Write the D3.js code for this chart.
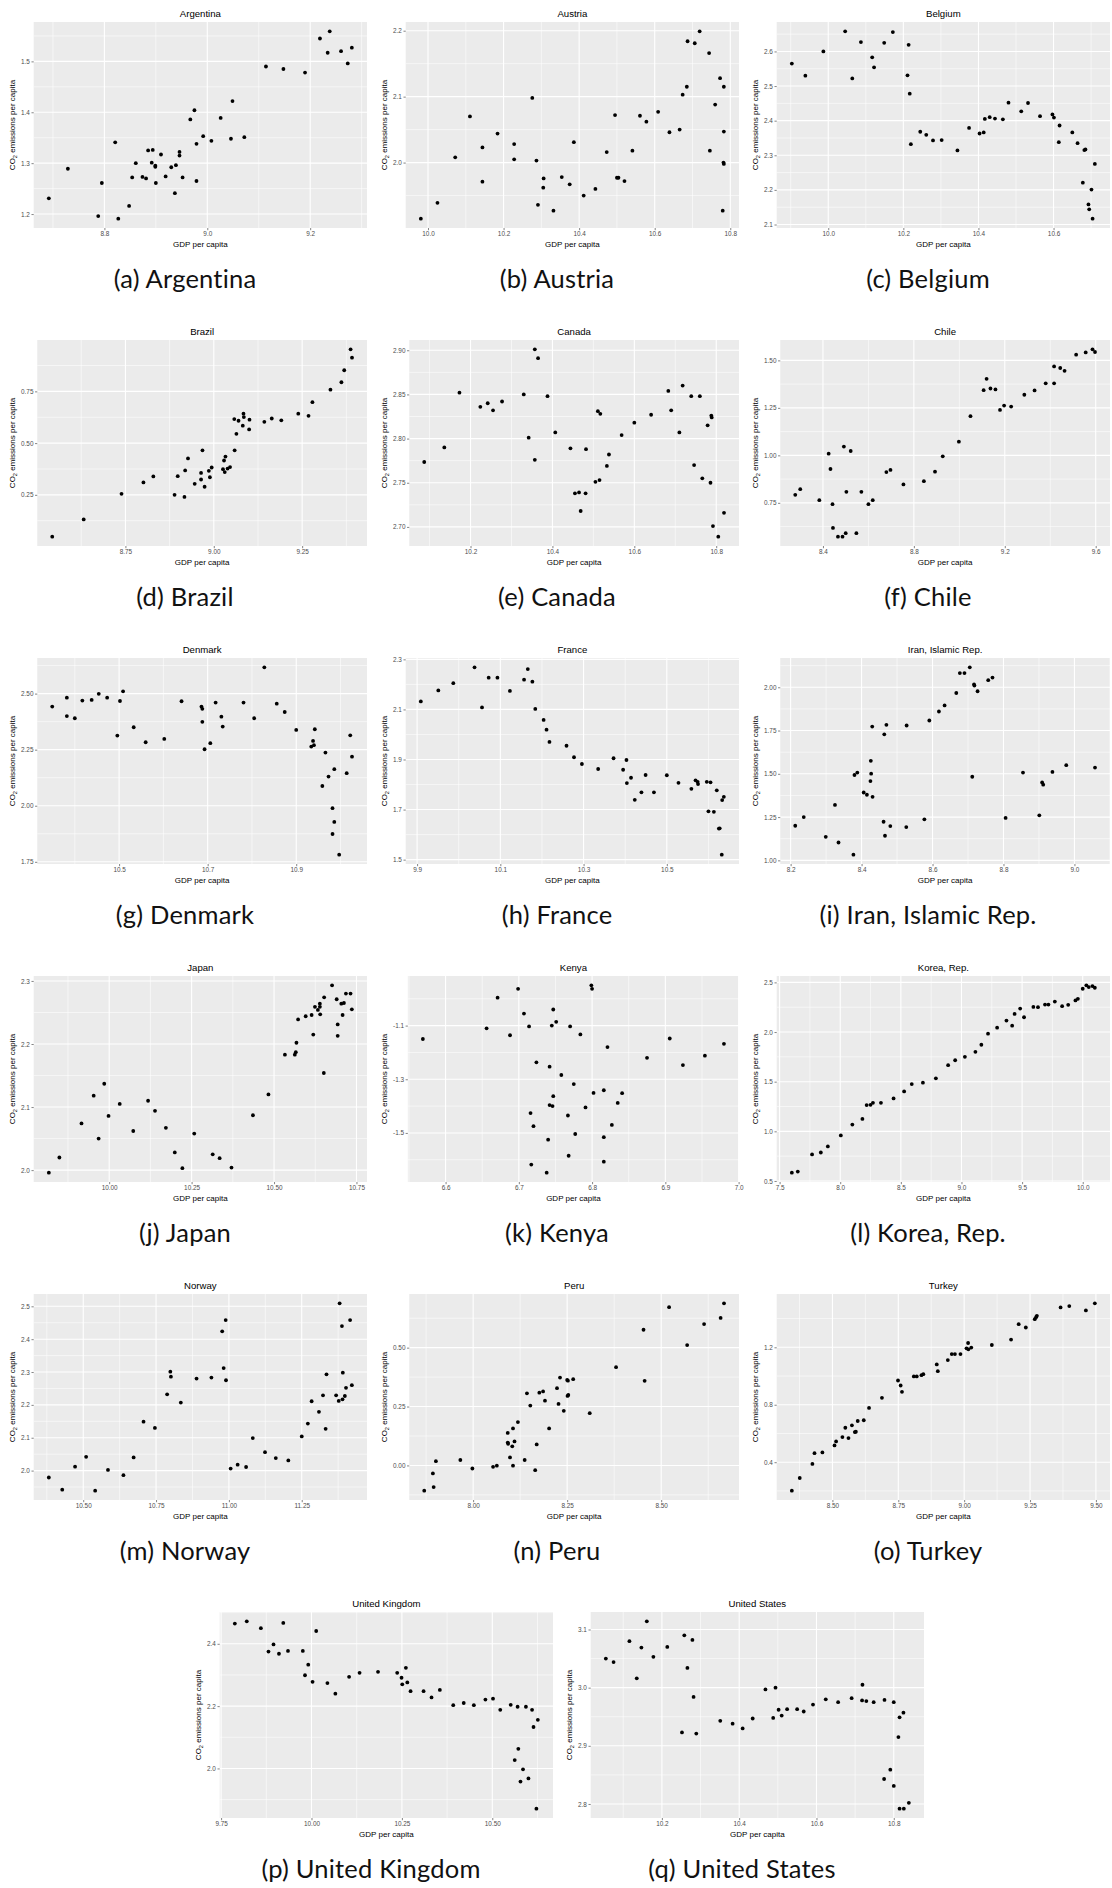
<!DOCTYPE html>
<html>
<head>
<meta charset="utf-8">
<script src="https://cdn.jsdelivr.net/npm/d3@7"></script>
<style>
  body { margin: 0; background: #fff; }
  svg { display: block; }
</style>
</head>
<body>
<svg id="fig" width="1112" height="1888"></svg>
<script>
// Each country: [log GDP per capita, log CO2 emissions per capita] per year
const argentina = [[8.692,1.231],[8.729,1.289],[8.788,1.196],[8.795,1.261],[8.821,1.341],[8.827,1.191],[8.848,1.216],[8.854,1.272],[8.861,1.300],[8.874,1.273],[8.881,1.270],[8.885,1.325],[8.894,1.326],[8.892,1.301],[8.899,1.293],[8.899,1.295],[8.900,1.261],[8.910,1.317],[8.919,1.274],[8.930,1.292],[8.937,1.241],[8.939,1.296],[8.946,1.322],[8.946,1.315],[8.952,1.272],[8.967,1.386],[8.975,1.404],[8.979,1.265],[8.979,1.338],[8.992,1.353],[9.008,1.344],[9.026,1.389],[9.046,1.348],[9.049,1.422],[9.072,1.351],[9.114,1.490],[9.148,1.485],[9.190,1.478],[9.219,1.545],[9.234,1.517],[9.238,1.559],[9.260,1.520],[9.273,1.496],[9.281,1.527]];
const austria = [[9.981,1.915],[10.025,1.939],[10.072,2.008],[10.111,2.070],[10.144,2.023],[10.144,1.971],[10.184,2.044],[10.228,2.028],[10.228,2.005],[10.276,2.098],[10.287,2.003],[10.291,1.936],[10.305,1.962],[10.306,1.976],[10.332,1.927],[10.354,1.978],[10.375,1.967],[10.386,2.031],[10.412,1.950],[10.443,1.960],[10.473,2.016],[10.495,2.072],[10.500,1.977],[10.504,1.977],[10.520,1.972],[10.541,2.018],[10.561,2.071],[10.578,2.062],[10.609,2.077],[10.639,2.046],[10.666,2.050],[10.674,2.103],[10.685,2.115],[10.687,2.184],[10.706,2.181],[10.719,2.199],[10.744,2.166],[10.746,2.018],[10.760,2.088],[10.773,2.128],[10.783,2.115],[10.783,2.047],[10.782,2.000],[10.783,1.998],[10.780,1.927]];
const belgium = [[9.903,2.565],[9.939,2.530],[9.987,2.600],[10.045,2.658],[10.064,2.522],[10.087,2.627],[10.117,2.583],[10.122,2.554],[10.149,2.625],[10.172,2.656],[10.211,2.531],[10.214,2.619],[10.217,2.478],[10.220,2.332],[10.245,2.368],[10.261,2.359],[10.279,2.343],[10.302,2.344],[10.344,2.314],[10.375,2.379],[10.403,2.363],[10.414,2.366],[10.417,2.405],[10.430,2.410],[10.444,2.406],[10.465,2.404],[10.480,2.452],[10.514,2.427],[10.532,2.451],[10.564,2.413],[10.597,2.418],[10.601,2.409],[10.616,2.386],[10.614,2.338],[10.650,2.366],[10.664,2.335],[10.678,2.221],[10.682,2.315],[10.685,2.317],[10.693,2.158],[10.695,2.144],[10.701,2.201],[10.704,2.117],[10.710,2.275]];
const brazil = [[8.543,0.048],[8.632,0.131],[8.739,0.255],[8.801,0.310],[8.829,0.339],[8.889,0.250],[8.898,0.340],[8.917,0.240],[8.919,0.368],[8.927,0.426],[8.946,0.303],[8.964,0.356],[8.964,0.324],[8.968,0.465],[8.974,0.289],[8.986,0.366],[8.989,0.335],[8.994,0.382],[9.026,0.374],[9.029,0.416],[9.031,0.360],[9.033,0.435],[9.039,0.377],[9.046,0.384],[9.058,0.616],[9.059,0.465],[9.064,0.545],[9.070,0.608],[9.082,0.584],[9.084,0.642],[9.085,0.626],[9.100,0.566],[9.101,0.613],[9.143,0.603],[9.164,0.619],[9.191,0.610],[9.239,0.642],[9.268,0.632],[9.279,0.698],[9.330,0.758],[9.361,0.794],[9.369,0.852],[9.387,0.953],[9.391,0.913]];
const canada = [[10.087,2.7735],[10.136,2.790],[10.173,2.852],[10.224,2.836],[10.242,2.840],[10.255,2.832],[10.277,2.842],[10.330,2.850],[10.342,2.801],[10.357,2.901],[10.365,2.891],[10.357,2.776],[10.388,2.848],[10.407,2.807],[10.444,2.789],[10.455,2.738],[10.465,2.739],[10.469,2.718],[10.481,2.738],[10.482,2.788],[10.505,2.751],[10.511,2.831],[10.515,2.753],[10.517,2.828],[10.533,2.769],[10.538,2.782],[10.569,2.804],[10.600,2.818],[10.641,2.827],[10.683,2.854],[10.690,2.832],[10.710,2.807],[10.718,2.860],[10.739,2.848],[10.746,2.770],[10.760,2.848],[10.766,2.755],[10.779,2.815],[10.786,2.750],[10.788,2.826],[10.789,2.824],[10.792,2.701],[10.805,2.689],[10.819,2.716]];
const chile = [[8.278,0.792],[8.300,0.822],[8.384,0.764],[8.425,1.009],[8.433,0.928],[8.442,0.743],[8.444,0.618],[8.466,0.572],[8.486,0.572],[8.492,1.046],[8.500,0.590],[8.503,0.808],[8.522,1.023],[8.547,0.590],[8.569,0.808],[8.600,0.743],[8.619,0.764],[8.679,0.912],[8.697,0.923],[8.754,0.847],[8.844,0.864],[8.893,0.914],[8.927,0.995],[8.998,1.072],[9.049,1.206],[9.107,1.343],[9.120,1.403],[9.137,1.352],[9.159,1.347],[9.179,1.239],[9.197,1.262],[9.228,1.257],[9.286,1.319],[9.331,1.342],[9.380,1.379],[9.417,1.379],[9.417,1.468],[9.444,1.460],[9.463,1.445],[9.514,1.530],[9.556,1.542],[9.586,1.558],[9.597,1.544]];
const denmark = [[10.349,2.442],[10.382,2.482],[10.382,2.400],[10.400,2.390],[10.417,2.469],[10.438,2.472],[10.454,2.499],[10.473,2.482],[10.496,2.313],[10.502,2.467],[10.509,2.510],[10.533,2.350],[10.560,2.283],[10.602,2.298],[10.641,2.466],[10.686,2.442],[10.688,2.432],[10.688,2.374],[10.693,2.252],[10.706,2.279],[10.718,2.460],[10.731,2.397],[10.734,2.353],[10.781,2.460],[10.805,2.390],[10.828,2.617],[10.856,2.455],[10.874,2.418],[10.900,2.338],[10.934,2.264],[10.938,2.289],[10.940,2.270],[10.942,2.341],[10.966,2.237],[10.959,2.088],[10.973,2.130],[10.982,1.989],[10.986,2.163],[10.986,1.928],[10.982,1.874],[10.997,1.782],[11.014,2.145],[11.022,2.314],[11.026,2.219]];
const france = [[9.909,2.132],[9.951,2.176],[9.987,2.205],[10.038,2.268],[10.056,2.108],[10.072,2.227],[10.093,2.227],[10.123,2.174],[10.157,2.219],[10.166,2.261],[10.177,2.211],[10.184,2.102],[10.204,2.058],[10.211,2.019],[10.218,1.970],[10.259,1.955],[10.277,1.909],[10.296,1.882],[10.335,1.862],[10.372,1.905],[10.395,1.859],[10.403,1.898],[10.404,1.806],[10.414,1.827],[10.423,1.739],[10.439,1.769],[10.449,1.838],[10.469,1.769],[10.500,1.837],[10.528,1.807],[10.559,1.783],[10.569,1.817],[10.574,1.811],[10.575,1.802],[10.596,1.811],[10.600,1.693],[10.605,1.809],[10.613,1.691],[10.620,1.777],[10.625,1.624],[10.627,1.625],[10.632,1.520],[10.633,1.738],[10.637,1.751]];
const iran = [[8.213,1.200],[8.237,1.250],[8.299,1.136],[8.325,1.320],[8.335,1.103],[8.377,1.033],[8.380,1.493],[8.388,1.507],[8.406,1.392],[8.415,1.379],[8.425,1.458],[8.426,1.575],[8.427,1.501],[8.431,1.367],[8.430,1.773],[8.462,1.223],[8.464,1.728],[8.466,1.142],[8.470,1.783],[8.481,1.198],[8.526,1.192],[8.527,1.779],[8.577,1.237],[8.591,1.808],[8.618,1.860],[8.634,1.895],[8.667,1.967],[8.677,2.082],[8.690,2.082],[8.705,2.115],[8.712,1.483],[8.717,2.017],[8.718,2.010],[8.727,1.977],[8.757,2.041],[8.769,2.056],[8.806,1.245],[8.855,1.507],[8.901,1.260],[8.909,1.450],[8.912,1.437],[8.938,1.511],[8.977,1.550],[9.058,1.536]];
const japan = [[9.817,1.996],[9.849,2.020],[9.916,2.074],[9.953,2.118],[9.968,2.050],[9.985,2.137],[9.998,2.086],[10.032,2.105],[10.073,2.062],[10.118,2.110],[10.139,2.094],[10.172,2.067],[10.199,2.028],[10.222,2.003],[10.258,2.058],[10.314,2.025],[10.335,2.019],[10.371,2.004],[10.436,2.087],[10.483,2.120],[10.533,2.183],[10.563,2.183],[10.566,2.187],[10.568,2.202],[10.573,2.239],[10.596,2.244],[10.614,2.246],[10.619,2.215],[10.624,2.259],[10.633,2.254],[10.639,2.264],[10.639,2.259],[10.640,2.247],[10.652,2.274],[10.651,2.154],[10.676,2.293],[10.690,2.271],[10.693,2.231],[10.693,2.213],[10.704,2.264],[10.708,2.246],[10.712,2.265],[10.718,2.280],[10.732,2.280],[10.736,2.255]];
const kenya = [[6.569,-1.150],[6.656,-1.110],[6.671,-0.996],[6.688,-1.136],[6.699,-0.963],[6.707,-1.055],[6.714,-1.103],[6.724,-1.237],[6.716,-1.426],[6.720,-1.475],[6.717,-1.618],[6.740,-1.525],[6.738,-1.648],[6.745,-1.100],[6.747,-1.040],[6.751,-1.086],[6.742,-1.253],[6.742,-1.396],[6.746,-1.400],[6.747,-1.363],[6.758,-1.284],[6.768,-1.585],[6.767,-1.435],[6.770,-1.103],[6.775,-1.318],[6.777,-1.504],[6.784,-1.133],[6.791,-1.405],[6.799,-0.950],[6.800,-0.963],[6.802,-1.351],[6.816,-1.341],[6.816,-1.516],[6.816,-1.607],[6.821,-1.180],[6.827,-1.470],[6.835,-1.388],[6.841,-1.352],[6.875,-1.220],[6.906,-1.148],[6.924,-1.247],[6.954,-1.212],[6.980,-1.168]];
const korea = [[7.601,0.584],[7.650,0.595],[7.768,0.767],[7.840,0.787],[7.898,0.848],[8.005,0.959],[8.100,1.068],[8.183,1.125],[8.218,1.264],[8.250,1.267],[8.270,1.287],[8.336,1.287],[8.440,1.331],[8.527,1.402],[8.590,1.476],[8.682,1.490],[8.789,1.534],[8.890,1.666],[8.948,1.716],[9.028,1.750],[9.115,1.801],[9.164,1.872],[9.219,1.983],[9.294,2.044],[9.371,2.115],[9.418,2.064],[9.438,2.182],[9.484,2.236],[9.516,2.149],[9.593,2.253],[9.631,2.250],[9.689,2.277],[9.717,2.277],[9.770,2.307],[9.830,2.260],[9.880,2.274],[9.940,2.318],[9.960,2.334],[10.000,2.436],[10.030,2.470],[10.050,2.453],[10.080,2.463],[10.100,2.446]];
const norway = [[10.382,1.979],[10.428,1.942],[10.472,2.012],[10.510,2.042],[10.541,1.939],[10.585,2.002],[10.638,1.986],[10.673,2.040],[10.707,2.149],[10.746,2.130],[10.788,2.232],[10.799,2.301],[10.801,2.286],[10.835,2.207],[10.889,2.280],[10.940,2.283],[10.977,2.424],[10.982,2.312],[10.989,2.458],[10.990,2.275],[11.006,2.006],[11.030,2.018],[11.059,2.011],[11.082,2.099],[11.124,2.056],[11.161,2.038],[11.204,2.031],[11.250,2.104],[11.271,2.143],[11.284,2.211],[11.309,2.179],[11.323,2.229],[11.332,2.127],[11.335,2.293],[11.368,2.229],[11.377,2.212],[11.380,2.509],[11.388,2.440],[11.390,2.217],[11.391,2.298],[11.398,2.227],[11.402,2.252],[11.416,2.458],[11.422,2.260]];
const peru = [[7.870,-0.107],[7.893,-0.034],[7.895,-0.092],[7.901,0.018],[7.966,0.023],[7.998,-0.013],[8.053,-0.006],[8.063,-0.001],[8.092,0.138],[8.092,0.097],[8.093,0.092],[8.098,0.034],[8.106,0.157],[8.104,0.081],[8.106,-0.001],[8.110,0.102],[8.119,0.184],[8.137,0.023],[8.143,0.306],[8.152,0.254],[8.165,-0.020],[8.169,0.089],[8.176,0.309],[8.186,0.314],[8.191,0.275],[8.202,0.157],[8.223,0.328],[8.227,0.261],[8.231,0.373],[8.241,0.232],[8.250,0.363],[8.252,0.360],[8.251,0.295],[8.253,0.299],[8.266,0.366],[8.310,0.222],[8.380,0.417],[8.453,0.576],[8.456,0.359],[8.521,0.672],[8.569,0.511],[8.614,0.600],[8.658,0.626],[8.667,0.688]];
const turkey = [[8.346,0.202],[8.376,0.290],[8.424,0.388],[8.432,0.463],[8.462,0.468],[8.508,0.517],[8.514,0.545],[8.538,0.575],[8.549,0.640],[8.561,0.568],[8.574,0.657],[8.585,0.610],[8.589,0.612],[8.596,0.687],[8.619,0.692],[8.639,0.778],[8.688,0.848],[8.749,0.969],[8.759,0.934],[8.764,0.890],[8.809,0.997],[8.820,0.997],[8.838,1.006],[8.845,1.013],[8.896,1.081],[8.900,1.034],[8.938,1.111],[8.953,1.153],[8.965,1.153],[8.986,1.153],[9.009,1.193],[9.015,1.230],[9.016,1.186],[9.027,1.198],[9.105,1.216],[9.178,1.254],[9.207,1.361],[9.234,1.338],[9.268,1.396],[9.273,1.410],[9.276,1.419],[9.366,1.478],[9.399,1.487],[9.462,1.457],[9.496,1.506]];
const unitedKingdom = [[9.788,2.465],[9.821,2.472],[9.860,2.450],[9.881,2.375],[9.895,2.398],[9.910,2.368],[9.922,2.467],[9.935,2.377],[9.976,2.377],[9.982,2.299],[9.991,2.333],[10.003,2.278],[10.013,2.441],[10.044,2.274],[10.066,2.240],[10.104,2.294],[10.133,2.307],[10.184,2.310],[10.237,2.307],[10.249,2.291],[10.251,2.270],[10.261,2.323],[10.265,2.276],[10.274,2.248],[10.310,2.248],[10.332,2.228],[10.355,2.252],[10.392,2.203],[10.421,2.210],[10.449,2.203],[10.481,2.221],[10.502,2.224],[10.522,2.188],[10.551,2.204],[10.570,2.198],[10.593,2.198],[10.610,2.188],[10.626,2.156],[10.614,2.133],[10.572,2.063],[10.562,2.027],[10.585,1.997],[10.578,1.958],[10.600,1.968],[10.622,1.871]];
const unitedStates = [[10.055,3.050],[10.075,3.044],[10.116,3.080],[10.135,3.016],[10.147,3.069],[10.161,3.114],[10.178,3.053],[10.214,3.070],[10.252,2.923],[10.258,3.090],[10.266,3.034],[10.279,3.082],[10.282,2.984],[10.289,2.921],[10.351,2.943],[10.383,2.938],[10.409,2.930],[10.435,2.947],[10.468,2.997],[10.488,2.948],[10.494,3.000],[10.502,2.962],[10.510,2.952],[10.524,2.963],[10.550,2.963],[10.567,2.959],[10.591,2.971],[10.624,2.980],[10.656,2.975],[10.691,2.982],[10.719,3.005],[10.718,2.978],[10.729,2.977],[10.748,2.975],[10.775,2.843],[10.776,2.979],[10.791,2.859],[10.800,2.831],[10.800,2.975],[10.812,2.915],[10.815,2.949],[10.815,2.792],[10.825,2.957],[10.826,2.792],[10.839,2.802]];

// Axis break labels for each country
const argentinaX = ["8.8","9.0","9.2"],              argentinaY = ["1.2","1.3","1.4","1.5"];
const austriaX = ["10.0","10.2","10.4","10.6","10.8"], austriaY = ["2.0","2.1","2.2"];
const belgiumX = ["10.0","10.2","10.4","10.6"],      belgiumY = ["2.1","2.2","2.3","2.4","2.5","2.6"];
const brazilX = ["8.50","8.75","9.00","9.25"],       brazilY = ["0.25","0.50","0.75"];
const canadaX = ["10.2","10.4","10.6","10.8"],       canadaY = ["2.70","2.75","2.80","2.85","2.90"];
const chileX = ["8.4","8.8","9.2","9.6"],            chileY = ["0.75","1.00","1.25","1.50"];
const denmarkX = ["10.5","10.7","10.9"],             denmarkY = ["1.75","2.00","2.25","2.50"];
const franceX = ["9.9","10.1","10.3","10.5"],        franceY = ["1.5","1.7","1.9","2.1","2.3"];
const iranX = ["8.2","8.4","8.6","8.8","9.0"],       iranY = ["1.00","1.25","1.50","1.75","2.00"];
const japanX = ["10.00","10.25","10.50","10.75"],    japanY = ["2.0","2.1","2.2","2.3"];
const kenyaX = ["6.6","6.7","6.8","6.9","7.0"],      kenyaY = ["-1.5","-1.3","-1.1"];
const koreaX = ["7.5","8.0","8.5","9.0","9.5","10.0"], koreaY = ["0.5","1.0","1.5","2.0","2.5"];
const norwayX = ["10.50","10.75","11.00","11.25"],   norwayY = ["2.0","2.1","2.2","2.3","2.4","2.5"];
const peruX = ["8.00","8.25","8.50"],                peruY = ["0.00","0.25","0.50"];
const turkeyX = ["8.50","8.75","9.00","9.25","9.50"], turkeyY = ["0.4","0.8","1.2"];
const ukX = ["9.75","10.00","10.25","10.50"],        ukY = ["2.0","2.2","2.4"];
const usX = ["10.2","10.4","10.6","10.8"],           usY = ["2.8","2.9","3.0","3.1"];

const panels = [
  { tag: "a", name: "Argentina",          data: argentina,     xTicks: argentinaX, yTicks: argentinaY },
  { tag: "b", name: "Austria",            data: austria,       xTicks: austriaX,   yTicks: austriaY },
  { tag: "c", name: "Belgium",            data: belgium,       xTicks: belgiumX,   yTicks: belgiumY },
  { tag: "d", name: "Brazil",             data: brazil,        xTicks: brazilX,    yTicks: brazilY },
  { tag: "e", name: "Canada",             data: canada,        xTicks: canadaX,    yTicks: canadaY },
  { tag: "f", name: "Chile",              data: chile,         xTicks: chileX,     yTicks: chileY },
  { tag: "g", name: "Denmark",            data: denmark,       xTicks: denmarkX,   yTicks: denmarkY },
  { tag: "h", name: "France",             data: france,        xTicks: franceX,    yTicks: franceY },
  { tag: "i", name: "Iran, Islamic Rep.", data: iran,          xTicks: iranX,      yTicks: iranY },
  { tag: "j", name: "Japan",              data: japan,         xTicks: japanX,     yTicks: japanY },
  { tag: "k", name: "Kenya",              data: kenya,         xTicks: kenyaX,     yTicks: kenyaY },
  { tag: "l", name: "Korea, Rep.",        data: korea,         xTicks: koreaX,     yTicks: koreaY },
  { tag: "m", name: "Norway",             data: norway,        xTicks: norwayX,    yTicks: norwayY },
  { tag: "n", name: "Peru",               data: peru,          xTicks: peruX,      yTicks: peruY },
  { tag: "o", name: "Turkey",             data: turkey,        xTicks: turkeyX,    yTicks: turkeyY },
  { tag: "p", name: "United Kingdom",     data: unitedKingdom, xTicks: ukX,        yTicks: ukY },
  { tag: "q", name: "United States",      data: unitedStates,  xTicks: usX,        yTicks: usY }
];

// Page grid: three sub-figures per row, the last row holds two centred ones
const ROW_H = 318;
const COL_X = [0, 372, 743];
const LAST_ROW_X = [186, 557];

const FONT = "'Liberation Sans', Arial, Helvetica, sans-serif";
const CAPTION_FONT = "Lato, 'Open Sans', 'DejaVu Sans', sans-serif";
const TICK_SIZE = 6.4;

const svg = d3.select("#fig");
svg.append("rect").attr("width", 1112).attr("height", 1888).attr("fill", "#fff");

const measurer = svg.append("text")
  .attr("font-family", FONT).attr("font-size", TICK_SIZE)
  .attr("visibility", "hidden");
function textWidth(s) { measurer.text(s); return measurer.node().getComputedTextLength(); }

// ggplot-style minor breaks: midpoints between (extended) major breaks
function minorBreaks(major, dom) {
  const step = major[1] - major[0];
  const ext = [major[0] - step, ...major, major[major.length - 1] + step];
  const out = [];
  for (let i = 0; i < ext.length - 1; i++) {
    const m = (ext[i] + ext[i + 1]) / 2;
    if (m >= dom[0] && m <= dom[1]) out.push(m);
  }
  return out;
}

function drawPanel(p, x0, y0) {
  const xe = d3.extent(p.data, d => d[0]);
  const ye = d3.extent(p.data, d => d[1]);
  const xpad = (xe[1] - xe[0]) * 0.05, ypad = (ye[1] - ye[0]) * 0.05;
  const xDom = [xe[0] - xpad, xe[1] + xpad];
  const yDom = [ye[0] - ypad, ye[1] + ypad];

  const labelW = d3.max(p.yTicks, textWidth);
  const left = x0 + 21 + labelW + 3.8;
  const right = x0 + 367;
  const top = y0 + 22;
  const bottom = y0 + 228;

  const x = d3.scaleLinear().domain(xDom).range([left, right]);
  const y = d3.scaleLinear().domain(yDom).range([bottom, top]);

  const xMajor = p.xTicks.map(Number).filter(v => v >= xDom[0] && v <= xDom[1]);
  const yMajor = p.yTicks.map(Number).filter(v => v >= yDom[0] && v <= yDom[1]);
  const xLabel = new Map(p.xTicks.map(s => [Number(s), s]));
  const yLabel = new Map(p.yTicks.map(s => [Number(s), s]));

  const g = svg.append("g");

  g.append("rect")
    .attr("x", left).attr("y", top)
    .attr("width", right - left).attr("height", bottom - top)
    .attr("fill", "#EBEBEB");

  const grid = g.append("g").attr("stroke", "#fff").attr("fill", "none");
  grid.selectAll("line.vminor").data(minorBreaks(p.xTicks.map(Number), xDom)).join("line")
    .attr("class", "vminor")
    .attr("x1", d => x(d)).attr("x2", d => x(d)).attr("y1", top).attr("y2", bottom)
    .attr("stroke-width", 0.55);
  grid.selectAll("line.hminor").data(minorBreaks(p.yTicks.map(Number), yDom)).join("line")
    .attr("class", "hminor")
    .attr("y1", d => y(d)).attr("y2", d => y(d)).attr("x1", left).attr("x2", right)
    .attr("stroke-width", 0.55);
  grid.selectAll("line.vmajor").data(xMajor).join("line")
    .attr("class", "vmajor")
    .attr("x1", d => x(d)).attr("x2", d => x(d)).attr("y1", top).attr("y2", bottom)
    .attr("stroke-width", 1.1);
  grid.selectAll("line.hmajor").data(yMajor).join("line")
    .attr("class", "hmajor")
    .attr("y1", d => y(d)).attr("y2", d => y(d)).attr("x1", left).attr("x2", right)
    .attr("stroke-width", 1.1);

  const styleAxis = sel => {
    sel.select(".domain").remove();
    sel.selectAll(".tick line").attr("stroke", "#333333").attr("stroke-width", 0.6);
    sel.selectAll(".tick text").attr("fill", "#4D4D4D")
      .attr("font-family", FONT).attr("font-size", TICK_SIZE);
  };

  g.append("g")
    .attr("transform", `translate(0,${bottom})`)
    .call(d3.axisBottom(x).tickValues(xMajor).tickFormat(d => xLabel.get(d))
      .tickSize(2.2).tickPadding(1.6))
    .call(styleAxis);

  g.append("g")
    .attr("transform", `translate(${left},0)`)
    .call(d3.axisLeft(y).tickValues(yMajor).tickFormat(d => yLabel.get(d))
      .tickSize(2.2).tickPadding(1.6))
    .call(styleAxis);

  g.append("g").selectAll("circle").data(p.data).join("circle")
    .attr("cx", d => x(d[0])).attr("cy", d => y(d[1]))
    .attr("r", 1.9).attr("fill", "#000");

  // panel title
  g.append("text")
    .attr("x", (left + right) / 2).attr("y", top - 5)
    .attr("text-anchor", "middle")
    .attr("font-family", FONT).attr("font-size", 9.6).attr("fill", "#000")
    .text(p.name);

  // x axis title
  g.append("text")
    .attr("x", (left + right) / 2).attr("y", y0 + 247)
    .attr("text-anchor", "middle")
    .attr("font-family", FONT).attr("font-size", 8).attr("fill", "#000")
    .text("GDP per capita");

  // y axis title with subscript
  const yt = g.append("text")
    .attr("transform", `translate(${x0 + 15},${(top + bottom) / 2}) rotate(-90)`)
    .attr("text-anchor", "middle")
    .attr("font-family", FONT).attr("font-size", 8).attr("fill", "#000");
  yt.append("tspan").text("CO");
  yt.append("tspan").attr("font-size", 5.6).attr("dy", 1.8).text("2");
  yt.append("tspan").attr("dy", -1.8).text(" emissions per capita");

  // sub-figure caption
  svg.append("text")
    .attr("x", x0 + 185).attr("y", y0 + 288)
    .attr("text-anchor", "middle")
    .attr("font-family", CAPTION_FONT).attr("font-size", 25.5).attr("fill", "#111")
    .attr("letter-spacing", 0.2)
    .text(`(${p.tag}) ${p.name}`);
}

panels.forEach((p, i) => {
  const row = Math.floor(i / 3);
  const col = i % 3;
  const x0 = row < 5 ? COL_X[col] : LAST_ROW_X[col];
  drawPanel(p, x0, row * ROW_H);
});

measurer.remove();
</script>
</body>
</html>
